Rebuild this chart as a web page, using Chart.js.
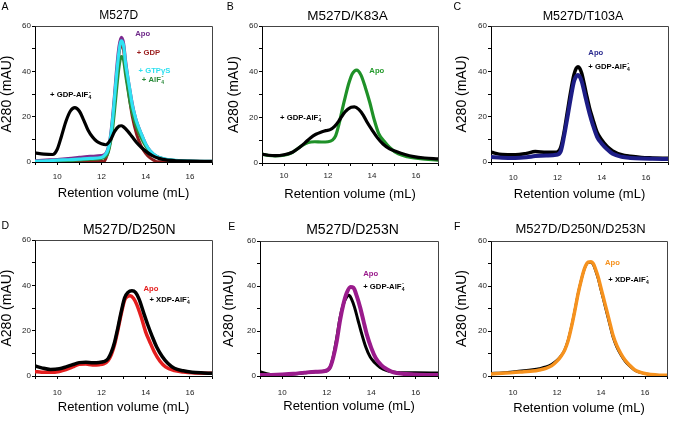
<!DOCTYPE html>
<html><head><meta charset="utf-8">
<script src="https://cdn.jsdelivr.net/npm/chart.js@4.4.1/dist/chart.umd.min.js"></script>
<style>
html,body{margin:0;padding:0;background:#fff;}
body{width:683px;height:421px;position:relative;overflow:hidden;}
canvas{position:absolute;}
</style></head><body>
<canvas id="cA" width="226" height="210" style="left:0px;top:0px"></canvas>
<canvas id="cB" width="230" height="210" style="left:224px;top:0px"></canvas>
<canvas id="cC" width="230" height="210" style="left:453px;top:0px"></canvas>
<canvas id="cD" width="226" height="211" style="left:0px;top:210px"></canvas>
<canvas id="cE" width="232" height="211" style="left:222px;top:210px"></canvas>
<canvas id="cF" width="230" height="211" style="left:453px;top:210px"></canvas>
<script>
// ---------- tick labels ----------
const xTickLabels = [10, 12, 14, 16];
const yTickLabels = [0, 20, 40, 60];

// ---------- Panel A: M527D ----------
const A_x = [9,9.5,10,10.5,11,11.5,12,12.2,12.3,12.4,12.5,12.6,12.7,12.8,12.9,13.0,13.1,13.2,13.3,13.4,13.5,13.6,13.8,14.0,14.2,14.5,14.8,15.0,15.5,16,17];
const A_apo = [0.5,0.8,1.1,1.5,2.0,2.5,2.8,3.8,6,10.5,19,30,42,51,55,52.5,44,37,31,25.5,21,17.5,12.5,8,5,2.5,1.4,1.0,0.5,0.3,0.2];
const A_gtp = [0.3,0.5,0.8,1.0,1.3,1.6,2.0,3.5,5.5,10,18,29,40,49,53.5,51.5,43,37,31,25,21,17.5,12.5,8,5,2.5,1.5,1.1,0.6,0.4,0.3];
const A_alf = [0,0.2,0.4,0.6,0.9,1.2,1.5,2.5,4,8,14,23,33,42,46.5,45,38,32,26,21.5,18,15,10.5,7,4.5,2.4,1.4,1.0,0.5,0.3,0.2];
const A_gdp_x = [9,10,11,12,12.1,12.2,12.3,12.4,12.5,12.6,12.7,12.8,12.9,13.0,13.1,13.2,13.3,13.4,13.6,13.8,14.0,14.2,14.4,14.5,15,16,17];
const A_gdp = [0.2,0.3,0.5,0.4,0,1.5,4.5,9,17,28,39,48,52,49.5,41,33,26,20,12,7,3.8,1.8,0.6,0.1,0.1,0.1,0.1];
const A_gdpalf_x = [9,9.4,9.8,10.0,10.2,10.4,10.6,10.8,11.0,11.2,11.4,11.6,11.8,12.0,12.2,12.4,12.6,12.8,12.9,13.0,13.2,13.4,13.6,13.8,14.0,14.3,14.6,15.0,15.5,16,17];
const A_gdpalf = [4.0,3.5,3.3,5.5,11.5,18,22.5,24,22.5,18.5,14,11,9,8,7.6,9.5,13.5,15.8,16,15.5,13.5,11,8.5,6.5,4.8,2.8,1.6,0.8,0.5,0.4,0.3];

// ---------- Panel B: M527D/K83A ----------
const B_apo_x = [9,9.3,9.6,10.0,10.35,10.8,11.1,11.4,11.7,12.0,12.2,12.35,12.5,12.65,12.8,12.95,13.1,13.3,13.5,13.7,13.9,14.1,14.3,14.6,14.8,15.2,15.6,16.2,17];
const B_apo = [3.9,3.3,3.1,3.4,4.5,7.5,9.0,9.3,9.2,9.3,10,12,17,23.5,29.5,35,39,40.7,38.5,33,26.5,19,13,9,6.8,4.0,2.8,1.9,1.3];
const B_alf_x = [9,9.3,9.6,10.0,10.35,10.7,10.95,11.2,11.45,11.7,11.9,12.1,12.3,12.5,12.7,12.9,13.05,13.2,13.4,13.6,13.8,14.0,14.25,14.5,14.8,15.1,15.5,15.9,16.4,17];
const B_alf = [3.9,3.4,3.2,3.6,4.6,6.8,8.8,11,12.6,13.6,14.2,14.6,16,18.5,21.5,23.5,24.4,24.6,23.5,21,17.5,14.5,11,8.3,6.2,5.0,3.7,2.8,2.2,1.8];

// ---------- Panel C: M527D/T103A ----------
const C_x = [9,9.5,10.1,10.6,11.0,11.5,11.95,12.15,12.3,12.45,12.6,12.75,12.85,12.93,13.0,13.1,13.3,13.45,13.6,13.8,14.0,14.25,14.5,14.9,15.3,15.8,16.3,17];
const C_alf = [4.3,3.3,3.2,3.8,4.6,4.3,4.3,6.5,13,22,31,38.5,41.3,42,41.5,39.2,30.4,24,19,13,9.8,6.8,4.9,3.2,2.5,2.0,1.8,1.6];
const C_apo = [2.2,1.9,1.8,2.1,2.6,2.9,3.2,4.7,11.3,19.5,28,35.5,37.8,38.4,37.8,35.5,27.4,21.5,16.5,11,8.2,5.6,3.6,2.3,1.8,1.5,1.4,1.3];

// ---------- Panel D: M527D/D250N ----------
const D_alf_x = [9,9.3,9.7,10.1,10.4,10.7,11.0,11.3,11.6,11.9,12.1,12.3,12.45,12.6,12.75,12.9,13.05,13.2,13.38,13.55,13.7,13.9,14.1,14.3,14.5,14.75,15.0,15.3,15.7,16.1,16.5,17];
const D_alf = [4.4,3.6,2.9,3.2,4.0,5.0,5.9,6.1,5.9,6.0,6.3,7.6,10.5,15,21.5,28.5,34.5,36.8,37.6,36.8,34,28.2,22.5,17.4,12.8,8.6,5.6,3.4,2.3,1.7,1.4,1.2];
const D_apo_x = [9,9.3,9.7,10.1,10.4,10.7,11.0,11.3,11.6,11.9,12.1,12.3,12.45,12.6,12.75,12.9,13.05,13.2,13.3,13.45,13.6,13.8,14.0,14.2,14.4,14.65,14.9,15.3,15.7,16.1,17];
const D_apo = [1.9,1.7,1.6,2.0,2.8,4.0,5.2,5.3,4.9,5.0,5.3,6.8,9.5,14,20.5,27.5,33.5,35.2,35.4,34.3,31.5,26,19.5,14.8,10.5,6.5,4.0,2.4,1.8,1.4,1.2];

// ---------- Panel E: M527D/D253N ----------
const E_apo_x = [9,9.5,10,10.5,11,11.5,11.93,12.16,12.3,12.45,12.6,12.75,12.9,13.07,13.2,13.35,13.5,13.65,13.8,14.0,14.2,14.45,14.7,15.0,15.4,15.9,16.5,17];
const E_apo = [0.4,0.5,0.7,1.0,1.5,1.9,2.2,4.1,8.5,15.5,24.8,32,37,39.6,39.2,35.5,30.5,24.5,18.5,12.5,8,4.8,3.0,1.6,1.0,0.7,0.5,0.4];
const E_alf_x = [9,9.3,9.6,10,10.5,11,11.5,11.95,12.15,12.3,12.45,12.6,12.75,12.9,13.0,13.1,13.25,13.4,13.55,13.75,13.95,14.15,14.4,14.7,15.0,15.3,16,17];
const E_alf = [1.9,1.0,0.6,0.6,0.9,1.4,1.9,2.2,3.8,9,17,26,32,35.2,35.9,34.5,30.5,25,19.5,13,8.5,6.0,3.8,2.4,1.8,1.5,1.4,1.3];

// ---------- Panel F: M527D/D250N/D253N ----------
const F_x = [9,9.5,10,10.5,10.9,11.2,11.5,11.75,12.0,12.2,12.35,12.5,12.66,12.8,12.96,13.1,13.2,13.3,13.42,13.55,13.65,13.75,13.87,14.0,14.1,14.25,14.41,14.55,14.71,14.9,15.09,15.3,15.54,15.8,16.1,16.5,17];
const F_apo = [0.9,1.2,1.5,1.9,2.2,2.7,3.4,4.5,6.6,9,11.5,15.5,21.9,28.5,36.6,42.5,46.2,49,50.6,50.8,49.9,47.5,44,39,35.2,29.5,23.3,18,13.7,10,7.1,4.8,2.7,1.6,0.9,0.5,0.3];
const F_alf = [1.2,1.5,1.9,2.4,2.9,3.4,4.1,5.2,7.0,9.2,11.7,15.8,22.2,28.8,36.8,42.6,46.2,48.9,50.4,50.5,49.4,46.8,43.2,38,34.2,28.4,22.2,17,12.9,9.4,6.6,4.4,2.5,1.5,0.9,0.5,0.3];

// ---------- rendering ----------
const FONT = '"Liberation Sans", Arial, Helvetica, sans-serif';
function pts(xs, ys) { return xs.map((x, i) => ({ x: x, y: ys[i] })); }

function drawRich(ctx, x, y, lb) {
  const size = 7.7;
  ctx.fillStyle = lb.color;
  ctx.textAlign = 'left';
  ctx.textBaseline = 'middle';
  ctx.font = 'bold ' + size + 'px ' + FONT;
  ctx.fillText(lb.text, x, y);
  const w = ctx.measureText(lb.text).width;
  ctx.font = 'bold 5px ' + FONT;
  if (lb.sub) ctx.fillText(lb.sub, x + w + 0.3, y + 2.7);
  if (lb.sup) {
    ctx.font = 'bold 6px ' + FONT;
    ctx.fillText(lb.sup, x + w + 0.6, y - 3);
  }
}

const decor = {
  id: 'decor',
  afterDraw(chart, args, o) {
    const ctx = chart.ctx, a = chart.chartArea;
    ctx.save();
    ctx.strokeStyle = '#444';
    ctx.lineWidth = 1;
    ctx.beginPath();
    ctx.moveTo(Math.round(a.left) + 0.5, Math.round(a.top) + 0.5);
    ctx.lineTo(Math.round(a.right) + 0.5, Math.round(a.top) + 0.5);
    ctx.lineTo(Math.round(a.right) + 0.5, Math.round(a.bottom) + 0.5);
    ctx.stroke();
    ctx.fillStyle = '#000';
    ctx.textBaseline = 'middle';
    ctx.textAlign = 'left';
    ctx.font = '10.5px ' + FONT;
    ctx.fillText(o.letter, o.lx, o.ly);
    ctx.textAlign = 'center';
    ctx.font = o.tsize + 'px ' + FONT;
    ctx.fillText(o.title, o.tx, o.ty);
    const sx = chart.scales.x, sy = chart.scales.y;
    o.labels.forEach(lb => drawRich(ctx, sx.getPixelForValue(lb.x), sy.getPixelForValue(lb.y), lb));
    ctx.restore();
  }
};

function panel(p) {
  const datasets = p.series.map(s => ({
    data: pts(s.x, s.y), borderColor: s.color, borderWidth: s.w, pointRadius: 0,
    cubicInterpolationMode: 'monotone', fill: false, order: s.order,
    borderJoinStyle: 'round', borderCapStyle: 'round'
  }));
  new Chart(document.getElementById(p.id), {
    type: 'line',
    data: { datasets: datasets },
    plugins: [decor],
    options: {
      responsive: false, animation: false, devicePixelRatio: 1, events: [],
      layout: { padding: p.pad },
      plugins: { legend: { display: false }, tooltip: { enabled: false }, decor: p.decor },
      scales: {
        x: {
          type: 'linear', min: 9, max: 17,
          afterFit(s) { s.height = p.xH; },
          ticks: { stepSize: 1, autoSkip: false, maxRotation: 0, padding: p.xtp, color: '#222',
                   font: { size: 8, family: FONT },
                   callback: v => xTickLabels.includes(v) ? String(v) : '' },
          grid: { drawOnChartArea: false, drawTicks: true, tickLength: 3, color: '#000', lineWidth: 1 },
          border: { display: true, color: '#000', width: 1 },
          title: { display: true, text: 'Retention volume (mL)', color: '#000',
                   font: { size: 13, family: FONT, lineHeight: 1 }, padding: { top: 0, bottom: p.xttp } }
        },
        y: {
          type: 'linear', min: 0, max: 60,
          afterFit(s) { s.width = p.yW; },
          ticks: { stepSize: 10, autoSkip: false, padding: 1, color: '#222',
                   font: { size: 8, family: FONT },
                   callback: v => yTickLabels.includes(v) ? String(v) : '' },
          grid: { drawOnChartArea: false, drawTicks: true, tickLength: 3, color: '#000', lineWidth: 1 },
          border: { display: true, color: '#000', width: 1 },
          title: { display: true, text: 'A280 (mAU)', color: '#000',
                   font: { size: 14, family: FONT, lineHeight: 1 }, padding: { top: p.yttp, bottom: 0 } }
        }
      }
    }
  });
}

panel({
  id: 'cA', pad: { left: 0, top: 26, right: 14, bottom: 0 }, yW: 35, xH: 48, xtp: 6.5, xttp: 10.5, yttp: 0,
  series: [
    { x: A_gdpalf_x, y: A_gdpalf, color: '#000000', w: 3.2, order: 0 },
    { x: A_x, y: A_gtp, color: '#30e2f2', w: 3.2, order: 1 },
    { x: A_x, y: A_alf, color: '#2a8c3a', w: 3, order: 2 },
    { x: A_gdp_x, y: A_gdp, color: '#8e1b1b', w: 3, order: 3 },
    { x: A_x, y: A_apo, color: '#7d2a8f', w: 3.2, order: 4 }
  ],
  decor: { letter: 'A', lx: 1.5, ly: 7.5, title: 'M527D', tx: 118.7, ty: 16, tsize: 12,
    labels: [
      { text: 'Apo', x: 13.53, y: 56.5, color: '#6f2a8a' },
      { text: '+ GDP', x: 13.6, y: 48.3, color: '#9a1d1d' },
      { text: '+ GTP\u03B3S', x: 13.68, y: 40.1, color: '#2ee0f0' },
      { text: '+ AlF', sub: '4', sup: '-', x: 13.83, y: 36.4, color: '#2a8a3a' },
      { text: '+ GDP-AlF', sub: '4', sup: '-', x: 9.68, y: 29.6, color: '#000' }
    ] }
});

panel({
  id: 'cB', pad: { left: 0, top: 26, right: 16, bottom: 0 }, yW: 38, xH: 47, xtp: 5.4, xttp: 9.5, yttp: 3,
  series: [
    { x: B_alf_x, y: B_alf, color: '#000000', w: 3.2, order: 0 },
    { x: B_apo_x, y: B_apo, color: '#1f9128', w: 3.2, order: 1 }
  ],
  decor: { letter: 'B', lx: 2.7, ly: 7.5, title: 'M527D/K83A', tx: 123.5, ty: 16.2, tsize: 13.5,
    labels: [
      { text: 'Apo', x: 13.88, y: 40.4, color: '#249a2c' },
      { text: '+ GDP-AlF', sub: '4', sup: '-', x: 9.82, y: 19.7, color: '#000' }
    ] }
});

panel({
  id: 'cC', pad: { left: 0, top: 26, right: 15, bottom: 0 }, yW: 38, xH: 48, xtp: 7.7, xttp: 8.8, yttp: 2.5,
  series: [
    { x: C_x, y: C_apo, color: '#1d1d86', w: 4, order: 0 },
    { x: C_x, y: C_alf, color: '#000000', w: 3.5, order: 1 }
  ],
  decor: { letter: 'C', lx: 0.5, ly: 7.5, title: 'M527D/T103A', tx: 130, ty: 16.7, tsize: 12.5,
    labels: [
      { text: 'Apo', x: 13.4, y: 48.1, color: '#2b2b8f' },
      { text: '+ GDP-AlF', sub: '4', sup: '-', x: 13.4, y: 42, color: '#000' }
    ] }
});

panel({
  id: 'cD', pad: { left: 0, top: 30, right: 14, bottom: 0 }, yW: 35, xH: 45, xtp: 9, xttp: 7.2, yttp: 0,
  series: [
    { x: D_alf_x, y: D_alf, color: '#000000', w: 3.5, order: 0 },
    { x: D_apo_x, y: D_apo, color: '#e41e1e', w: 3.5, order: 1 }
  ],
  decor: { letter: 'D', lx: 1.5, ly: 16.3, title: 'M527D/D250N', tx: 129.2, ty: 20.3, tsize: 14,
    labels: [
      { text: 'Apo', x: 13.9, y: 38.4, color: '#e41e1e' },
      { text: '+ XDP-AlF', sub: '4', sup: '-', x: 14.17, y: 33.5, color: '#000' }
    ] }
});

panel({
  id: 'cE', pad: { left: 0, top: 31, right: 16, bottom: 0 }, yW: 38, xH: 45, xtp: 8.9, xttp: 8, yttp: 0.5,
  series: [
    { x: E_apo_x, y: E_apo, color: '#9a1b8c', w: 4, order: 0 },
    { x: E_alf_x, y: E_alf, color: '#000000', w: 3, order: 1 }
  ],
  decor: { letter: 'E', lx: 6.3, ly: 16.7, title: 'M527D/D253N', tx: 130.5, ty: 20, tsize: 14,
    labels: [
      { text: 'Apo', x: 13.64, y: 45.3, color: '#9a1b8c' },
      { text: '+ GDP-AlF', sub: '4', sup: '-', x: 13.64, y: 39.7, color: '#000' }
    ] }
});

panel({
  id: 'cF', pad: { left: 0, top: 31, right: 16, bottom: 0 }, yW: 38, xH: 45, xtp: 8.9, xttp: 6.5, yttp: 2.5,
  series: [
    { x: F_x, y: F_apo, color: '#f6921e', w: 3.5, order: 0 },
    { x: F_x, y: F_alf, color: '#000000', w: 2.5, order: 1 }
  ],
  decor: { letter: 'F', lx: 1, ly: 16.7, title: 'M527D/D250N/D253N', tx: 127.5, ty: 19.5, tsize: 13,
    labels: [
      { text: 'Apo', x: 14.18, y: 50.3, color: '#f6921e' },
      { text: '+ XDP-AlF', sub: '4', sup: '-', x: 14.33, y: 42.8, color: '#000' }
    ] }
});
</script>
</body></html>
